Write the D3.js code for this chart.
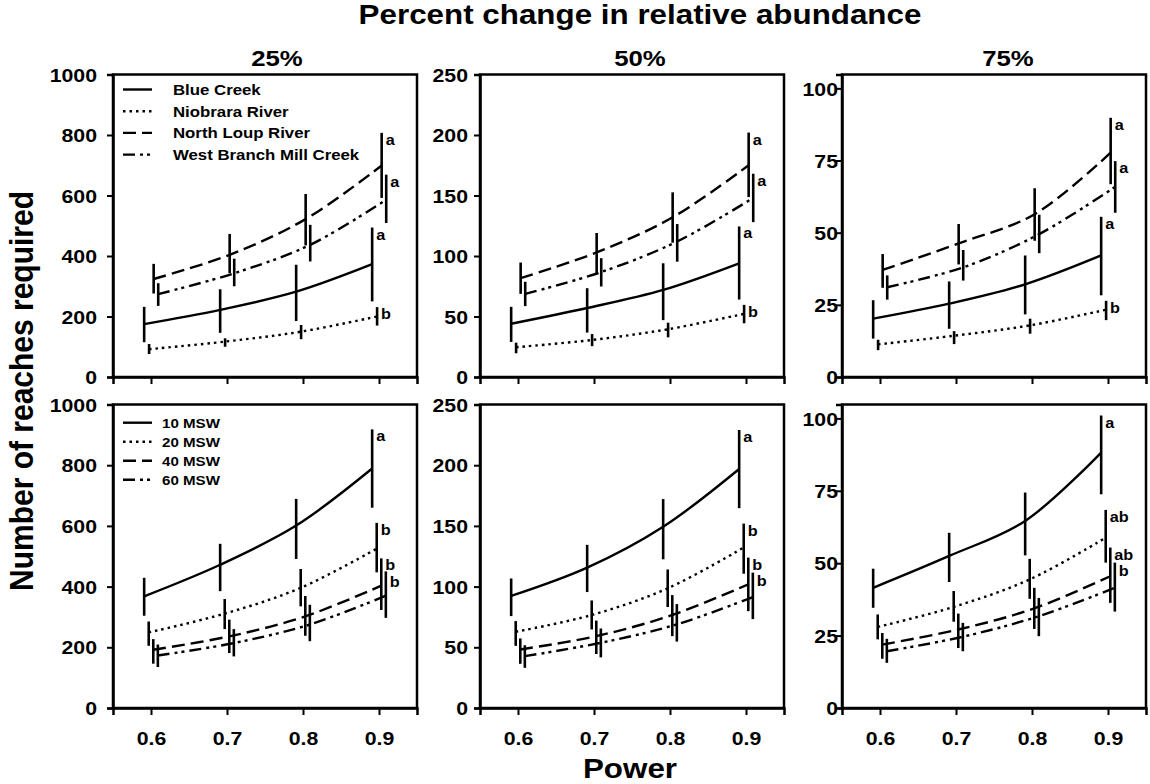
<!DOCTYPE html>
<html>
<head>
<meta charset="utf-8">
<script src="https://cdn.jsdelivr.net/npm/d3@7"></script>
<style>
  body { margin: 0; background: #fff; }
  svg { display: block; }
  text { font-family: "Liberation Sans", Arial, sans-serif; font-weight: bold; fill: #000; }
</style>
</head>
<body>
<svg id="chart" width="1150" height="784"></svg>
<script>
// ---- data ---------------------------------------------------------------
const powerLevels = [0.6, 0.7, 0.8, 0.9];
const panelTitles = ["25%", "50%", "75%"];
const yMaxima = [1000, 250, 104.8];
const yTickValues = [[0, 200, 400, 600, 800, 1000], [0, 50, 100, 150, 200, 250], [0, 25, 50, 75, 100]];

const streamNames = ["Blue Creek", "Niobrara River", "North Loup River", "West Branch Mill Creek"];
const widthNames = ["10 MSW", "20 MSW", "40 MSW", "60 MSW"];

// small horizontal dodge (power units) so the error bars of each series stay apart
const streamDodge = [-0.009, -0.0025, 0.0035, 0.0095];
const widthDodge = [-0.009, -0.003, 0.003, 0.009];

// stream comparison (Blue Creek, Niobrara River, North Loup River, West Branch Mill Creek)
const stream25Mean = [[175, 222, 282, 373], [92, 117, 150, 200], [324, 404, 522, 699], [274, 343, 437, 586]];
const stream25Low  = [[115, 146, 185, 250], [76, 100, 125, 170], [276, 343, 435, 592], [235, 300, 382, 509]];
const stream25High = [[232, 290, 371, 494], [109, 128, 172, 231], [374, 473, 605, 807], [310, 391, 503, 669]];

const stream50Mean = [[44, 57, 72, 94], [24.6, 30.6, 39.5, 52.2], [81.7, 103, 132, 175], [68.7, 86.7, 112, 148]];
const stream50Low  = [[29, 36.7, 47, 64], [19.6, 25.5, 32.8, 44.4], [68.7, 86, 111, 148.7], [58.6, 74.8, 95.3, 128]];
const stream50High = [[58, 73.4, 94, 124.4], [28.4, 35.5, 44.9, 59.6], [94.6, 119, 152.6, 202], [78.7, 98.2, 126.4, 168]];

const stream75Mean = [[20.2, 25.4, 32.1, 42.1], [11.3, 14.3, 17.9, 23.3], [37.1, 46.3, 56.4, 77.7], [31.1, 38, 49.5, 65.9]];
const stream75Low  = [[13.3, 16.7, 21.7, 28.3], [9.3, 11.4, 15, 19.7], [30.9, 39, 47.2, 66.8], [26.8, 33.4, 42.9, 56.9]];
const stream75High = [[26.6, 33.1, 42.1, 55.5], [12.9, 15.9, 20.2, 26.4], [42.6, 53, 65.4, 89.8], [35.2, 44, 56.2, 74.8]];

// sampling-width comparison (10, 20, 40, 60 MSW)
const width25Mean = [[368, 472, 601, 789], [249, 311, 396, 525], [192, 236, 302, 403], [173, 214, 275, 370]];
const width25Low  = [[304, 385, 491, 660], [205, 260, 335, 447], [146, 181, 238, 323], [135, 170, 220, 297]];
const width25High = [[429, 541, 689, 918], [285, 359, 458, 610], [227, 291, 369, 493], [209, 260, 340, 450]];

const width50Mean = [[92.3, 115.6, 149.3, 196.9], [62.8, 76.6, 98.6, 132.2], [48.2, 59.2, 76.6, 101.9], [42.7, 53.7, 68.9, 91.4]];
const width50Low  = [[75.7, 95.5, 122.5, 164.6], [51.2, 64.7, 83.2, 110.6], [36.4, 44.5, 59.2, 79.8], [33.1, 41.7, 54.7, 73.2]];
const width50High = [[106.7, 134.4, 172.1, 229], [71.6, 88.6, 114.1, 151.9], [57.3, 72, 93, 123.9], [51.7, 65.5, 85.6, 111.5]];

const width75Mean = [[41.5, 52.5, 64.6, 88.2], [28, 34.9, 44.4, 58.8], [21.9, 27.1, 34.4, 45.5], [19.6, 24.6, 31.7, 41.5]];
const width75Low  = [[34.6, 43.5, 52.7, 73.8], [23.7, 29.8, 37.7, 50.2], [17, 20.7, 27.3, 36.3], [15.6, 19.6, 24.8, 33.3]];
const width75High = [[48.1, 60.5, 74.4, 101], [32.3, 40.4, 51.5, 68.4], [25.9, 32.6, 41.5, 55.4], [23.9, 29.4, 38, 50.2]];

// significance letters at the 0.9 power level
const streamLetters = [["a", "b", "a", "a"], ["a", "b", "a", "a"], ["a", "b", "a", "a"]];
const widthLetters = [["a", "b", "b", "b"], ["a", "b", "b", "b"], ["a", "ab", "ab", "b"]];

// ---- layout -------------------------------------------------------------
const SX = 1.12;                       // horizontal glyph stretch used for every label
const dashes = [null, "2.5,4", "13,6", "12,5,3,4,3,5"];
const colX = [113, 480, 842];
const colW = 304;
const labelGap = [16, 12, 4];
const letterSize = 14.5;
const letterSpacing = 16.5;            // minimum baseline gap between stacked letters
const rows = [
  { top: 74.5, bottom: 377, names: streamNames, dodge: streamDodge,
    mean: [stream25Mean, stream50Mean, stream75Mean],
    low: [stream25Low, stream50Low, stream75Low],
    high: [stream25High, stream50High, stream75High],
    letters: streamLetters,
    legend: { y0: 89.5, step: 21.7, textX: 173, size: 15 } },
  { top: 404.5, bottom: 708, names: widthNames, dodge: widthDodge,
    mean: [width25Mean, width50Mean, width75Mean],
    low: [width25Low, width50Low, width75Low],
    high: [width25High, width50High, width75High],
    letters: widthLetters,
    legend: { y0: 422.7, step: 19, textX: 162, size: 13.5 } }
];

const svg = d3.select("#chart");

function label(parent, x, y, s, size, anchor, rotate) {
  return parent.append("text")
    .attr("transform", `translate(${x},${y}) scale(${SX},1)` + (rotate ? ` rotate(${rotate})` : ""))
    .attr("font-size", size)
    .attr("text-anchor", anchor || "start")
    .text(s);
}

rows.forEach((row, r) => {
  panelTitles.forEach((title, c) => {
    const x = d3.scaleLinear().domain([0.55, 0.95]).range([colX[c], colX[c] + colW]);
    const y = d3.scaleLinear().domain([0, yMaxima[c]]).range([row.bottom, row.top]);
    const g = svg.append("g");

    // frame
    g.append("rect")
      .attr("x", colX[c]).attr("y", row.top)
      .attr("width", colW).attr("height", row.bottom - row.top)
      .attr("fill", "none").attr("stroke", "#000").attr("stroke-width", 2.5);

    // y axis
    const ya = g.append("g").attr("transform", `translate(${colX[c]},0)`)
      .call(d3.axisLeft(y).tickValues(yTickValues[c]).tickSize(6).tickFormat(d3.format("d")));
    ya.select(".domain").attr("stroke-width", 2.5);
    ya.selectAll(".tick line").attr("stroke-width", 2);
    ya.selectAll(".tick text")
      .attr("font-size", 19).attr("font-family", null).attr("x", null).attr("dy", "0.35em")
      .attr("transform", `translate(${-labelGap[c]},0) scale(${SX},1)`);

    // x axis
    const xa = g.append("g").attr("transform", `translate(0,${row.bottom})`)
      .call(d3.axisBottom(x).tickValues(powerLevels).tickSize(7).tickFormat(d3.format(".1f")));
    xa.select(".domain").attr("stroke-width", 2.5);
    xa.selectAll(".tick line").attr("stroke-width", 2);
    if (r === 1) {
      xa.selectAll(".tick text")
        .attr("font-size", 19).attr("font-family", null).attr("y", null).attr("dy", null)
        .attr("transform", `translate(0,37) scale(${SX},1)`);
    } else {
      xa.selectAll(".tick text").remove();
    }

    // series lines
    const line = d3.line().curve(d3.curveCatmullRom.alpha(0.5))
      .x(d => x(d.p)).y(d => y(d.v));
    row.mean[c].forEach((vals, s) => {
      const pts = vals.map((v, i) => ({ p: powerLevels[i] + row.dodge[s], v }));
      g.append("path").datum(pts)
        .attr("d", line)
        .attr("fill", "none").attr("stroke", "#000").attr("stroke-width", 2.4)
        .attr("stroke-dasharray", dashes[s]);
    });

    // error bars
    const last = powerLevels.length - 1;
    row.mean[c].forEach((vals, s) => {
      g.selectAll(null).data(vals.map((v, i) => ({
          p: powerLevels[i] + row.dodge[s], lo: row.low[c][s][i], hi: row.high[c][s][i] })))
        .join("line")
        .attr("x1", d => x(d.p)).attr("x2", d => x(d.p))
        .attr("y1", d => y(d.lo)).attr("y2", d => y(d.hi))
        .attr("stroke", "#000").attr("stroke-width", 2.6);
    });

    // letters beside the top of each last bar, pushed apart when they stack too tightly
    const marks = row.letters[c].map((t, s) => ({
      t, x: x(powerLevels[last] + row.dodge[s]) + 4, y: y(row.high[c][s][last]) + 12 }))
      .sort((a, b) => a.y - b.y);
    marks.forEach((m, i) => {
      if (i > 0 && m.y - marks[i - 1].y < letterSpacing) m.y = marks[i - 1].y + letterSpacing;
      label(g, m.x, m.y, m.t, letterSize, "start");
    });

    // legend in the first column
    if (c === 0) {
      const L = row.legend;
      row.names.forEach((name, s) => {
        const ly = L.y0 + s * L.step;
        g.append("line").attr("x1", 123).attr("x2", 152).attr("y1", ly).attr("y2", ly)
          .attr("stroke", "#000").attr("stroke-width", 2.4).attr("stroke-dasharray", dashes[s]);
        label(g, L.textX, ly + L.size * 0.36, name, L.size, "start");
      });
    }

    // column titles above the top row
    if (r === 0) {
      const tx = [277, 640, 1008][c];
      label(svg, tx, 66, title, 23, "middle");
    }
  });
});

// overall titles
label(svg, 640, 24, "Percent change in relative abundance", 28, "middle");
label(svg, 630, 778, "Power", 28, "middle");
label(svg, 33, 391, "Number of reaches required", 30, "middle", -90);
</script>
</body>
</html>
